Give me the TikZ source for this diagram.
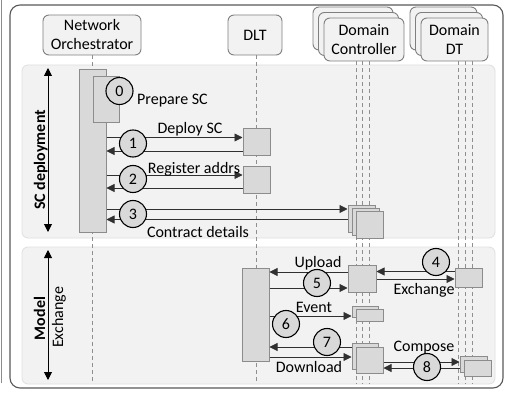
\documentclass[tikz,border=0pt]{standalone}
\usepackage{fontspec}
\setmainfont{Carlito}
\usetikzlibrary{arrows.meta}
\definecolor{boxfill}{HTML}{D9D9D9}
\definecolor{boxdraw}{HTML}{8C8C8C}
\definecolor{panelfill}{HTML}{F2F2F2}
\definecolor{paneldraw}{HTML}{E0E0E0}
\definecolor{hdrdraw}{HTML}{7F7F7F}
\definecolor{framec}{HTML}{595959}
\definecolor{lifec}{HTML}{8F8F8F}
\definecolor{linec}{HTML}{303030}
\begin{document}
\begin{tikzpicture}[x=1pt,y=-1pt,
  font=\fontsize{16}{19}\selectfont,
  hdr/.style={draw=hdrdraw, fill=panelfill, rounded corners=6pt, line width=0.9pt, align=center, inner sep=0pt},
  act/.style={draw=boxdraw, fill=boxfill, line width=1pt, inner sep=0pt},
  num/.style={circle, draw=black, fill=boxfill, line width=1.1pt, minimum size=27pt, inner sep=0pt},
  msg/.style={draw=linec, line width=0.8pt},
  tip/.style={-{Triangle[length=8pt,width=8pt]}},
  life/.style={draw=lifec, dash pattern=on 4pt off 3pt, line width=0.8pt},
  panel/.style={draw=paneldraw, fill=panelfill, rounded corners=6pt, line width=0.8pt},
  lbl/.style={inner sep=0pt, anchor=base}]
\useasboundingbox (0,0) rectangle (514,393);
% left edge line and outer frame
\draw[draw=boxdraw, line width=0.8pt] (1.5,0) -- (1.5,383);
\draw[draw=framec, line width=1.1pt, rounded corners=10pt, fill=white] (10,5) rectangle (503,388);
% panels
\draw[panel] (22,65) rectangle (495,238);
\draw[panel] (22,247) rectangle (495,384);
% headers
\node[hdr, minimum width=98pt, minimum height=40pt] (no) at (92,35) {Network\\Orchestrator};
\node[hdr, minimum width=54pt, minimum height=40pt] (dlt) at (255,35) {DLT};
\node[hdr, minimum width=80pt, minimum height=43pt] (dcb) at (353,28.5) {};
\node[hdr, minimum width=80pt, minimum height=43pt] (dcm) at (358.5,34) {};
\node[hdr, minimum width=80pt, minimum height=43pt] (dc) at (364,39.5) {Domain\\Controller};
\node[hdr, minimum width=67pt, minimum height=43pt] (ddtb) at (443.5,28.5) {};
\node[hdr, minimum width=67pt, minimum height=43pt] (ddtm) at (449,34) {};
\node[hdr, minimum width=67pt, minimum height=43pt] (ddt) at (454.5,39.5) {Domain\\DT};
% lifelines
\draw[life] (no.south) -- (no.south |- 0,384);
\draw[life] (dlt.south -| 256,0) -- (256,384);
\draw[life] (dc.south -| 356,0) -- (356,384);
\draw[life] (dc.south -| 362.5,0) -- (362.5,384);
\draw[life] (dc.south -| 369,0) -- (369,384);
\draw[life] (ddt.south -| 458,0) -- (458,384);
\draw[life] (ddt.south -| 465,0) -- (465,384);
\draw[life] (ddt.south -| 472,0) -- (472,384);
% phase arrows and labels
\draw[line width=0.9pt, {Triangle[length=8pt,width=8pt]}-{Triangle[length=8pt,width=8pt]}] (48,68) -- (48,232);
\node[lbl, rotate=90, font=\fontsize{16}{19}\selectfont\bfseries] (scd) at (45,160) {SC deployment};
\draw[line width=0.9pt, {Triangle[length=8pt,width=8pt]}-{Triangle[length=8pt,width=8pt]}] (48,250) -- (48,380);
\node[lbl, rotate=90, font=\fontsize{16}{19}\selectfont\bfseries] (mdl) at (45,318.5) {Model};
\node[lbl, rotate=90] (exch) at (63,317.5) {Exchange};
% activation boxes
\node[act, minimum width=27pt, minimum height=162pt] (noA) at (92.5,151) {};
\node[act, minimum width=26pt, minimum height=46pt] (noB) at (106,100) {};
\node[act, minimum width=27pt, minimum height=27pt] (d1) at (256.5,142.5) {};
\node[act, minimum width=27pt, minimum height=27pt] (d2) at (256.5,179.5) {};
\node[act, minimum width=27pt, minimum height=27pt] (c3b) at (361.5,218.5) {};
\node[act, minimum width=27pt, minimum height=27pt] (c3m) at (365.5,221.5) {};
\node[act, minimum width=27pt, minimum height=27pt] (c3f) at (369.5,224.5) {};
\node[act, minimum width=27pt, minimum height=93pt] (dltB) at (255.5,314.5) {};
\node[act, minimum width=28pt, minimum height=27pt] (c4) at (362,278.5) {};
\node[act, minimum width=27pt, minimum height=19pt] (t4) at (468.5,277.5) {};
\node[act, minimum width=26pt, minimum height=11pt] (c6b) at (365,311.5) {};
\node[act, minimum width=27pt, minimum height=12pt] (c6f) at (369.5,315) {};
\node[act, minimum width=26pt, minimum height=26pt] (c7b) at (365,356) {};
\node[act, minimum width=27pt, minimum height=26pt] (c7f) at (369.5,360) {};
\node[act, minimum width=27pt, minimum height=16pt] (t8b) at (473.5,364) {};
\node[act, minimum width=27pt, minimum height=16pt] (t8f) at (477.5,368) {};
% messages SC deployment
\draw[msg, tip] (noA.east |- 0,137.5) -- (d1.west |- 0,137.5);
\draw[msg, tip] (d1.west |- 0,151) -- (noA.east |- 0,151);
\draw[msg, tip] (noA.east |- 0,175) -- (d2.west |- 0,175);
\draw[msg, tip] (d2.west |- 0,188) -- (noA.east |- 0,188);
\draw[msg, tip] (noA.east |- 0,209) -- (c3b.west |- 0,209);
\draw[msg, tip] (c3b.west |- 0,219.5) -- (noA.east |- 0,219.5);
% messages model exchange
\draw[msg, tip] (t4.west |- 0,271.5) -- (c4.east |- 0,271.5);
\draw[msg, tip] (c4.east |- 0,279) -- (t4.west |- 0,279);
\draw[msg, tip] (c4.west |- 0,272) -- (dltB.east |- 0,272);
\draw[msg, tip] (dltB.east |- 0,288) -- (c4.west |- 0,288);
\draw[msg, tip] (dltB.east |- 0,316) -- (c6b.west |- 0,316);
\draw[msg, tip] (c7b.west |- 0,347) -- (dltB.east |- 0,347);
\draw[msg, tip] (dltB.east |- 0,357) -- (c7b.west |- 0,357);
\draw[msg, tip] (c7f.east |- 0,362) -- (t8b.west |- 0,362);
\draw[msg, tip] (t8b.west |- 0,368) -- (c7f.east |- 0,368);
% numbered circles
\node[num] (n0) at (119.5,91) {0};
\node[num] (n1) at (133,143.5) {1};
\node[num] (n2) at (133,179) {2};
\node[num] (n3) at (133,214) {3};
\node[num] (n4) at (436,262) {4};
\node[num] (n5) at (317,283) {5};
\node[num] (n6) at (286,324) {6};
\node[num] (n7) at (327,342) {7};
\node[num] (n8) at (427,367) {8};
% message labels
\node[inner sep=0pt, anchor=base west] (lprep) at (137,105) {Prepare SC};
\node[lbl] (ldep) at (190,134) {Deploy SC};
\node[lbl] (lreg) at (194,173) {Register addrs};
\node[lbl] (lcon) at (198,237) {Contract details};
\node[lbl] (lupl) at (318,267) {Upload};
\node[lbl] (lexc) at (424,294) {Exchange};
\node[lbl] (levt) at (314,312) {Event};
\node[lbl] (ldow) at (309,372) {Download};
\node[lbl] (lcom) at (424,351) {Compose};
\end{tikzpicture}
\end{document}
